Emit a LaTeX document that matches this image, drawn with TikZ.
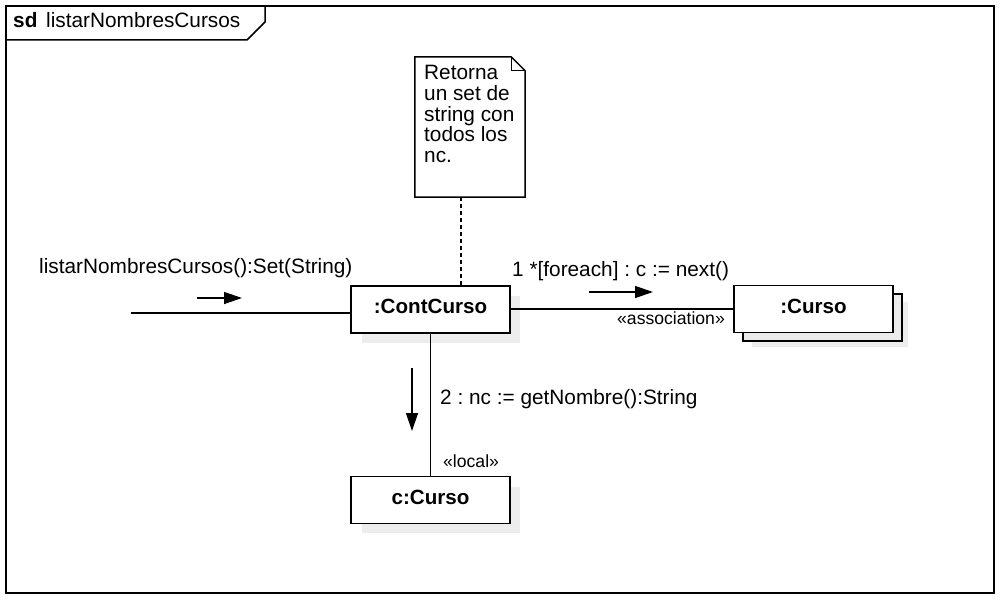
\documentclass[tikz,border=0pt]{standalone}
\usepackage{fontspec}
\setmainfont{Liberation Sans}
\usetikzlibrary{arrows.meta,calc}
\begin{document}
\frenchspacing
\begin{tikzpicture}[x=1pt,y=-1pt,
  lbl/.style={font=\fontsize{20.8}{20.8}\selectfont, inner sep=0pt},
  stereo/.style={font=\fontsize{17.6}{18}\selectfont, inner sep=0pt},
  obj/.style={draw, fill=white, line width=1.8pt, minimum width=159pt, minimum height=47pt,
    text height=15pt, text depth=7pt,
    font=\fontsize{20.6}{21}\selectfont\bfseries, inner sep=0pt},
  shade/.style={fill=black!7, draw=none},
  msg/.style={-{Triangle[length=18pt,width=12pt]}, line width=1.3pt},
  conn/.style={line width=1.3pt}]
\useasboundingbox (0,0) rectangle (1002,602);
\fill[white] (0,0) rectangle (1002,602);
% frame
\draw[line width=1.5pt] (6,6) rectangle (994,593);
\draw[line width=1.5pt] (6,40) -- (247,40) -- (265,22) -- (265,6);
\node[lbl, anchor=base west] (sd) at (13,28) {\bfseries sd};
\node[lbl, anchor=base west] (title) at (46,28) {listarNombresCursos};
% note
\node[minimum width=110pt, minimum height=140pt, inner sep=0pt] (note) at (470,127) {};
\draw[line width=1.5pt, fill=white] (note.north west) -- ($(note.north east)+(-14,0)$) -- ($(note.north east)+(0,14)$) -- (note.south east) -- (note.south west) -- cycle;
\draw[line width=1.2pt] ($(note.north east)+(-14,0)$) -- ($(note.north east)+(-14,14)$) -- ($(note.north east)+(0,14)$);
\node[lbl, anchor=north west, align=left] (notetext) at (424,65) {Retorna\\un set de\\string con\\todos los\\nc.};
% shadows
\fill[shade] (362,296) rectangle (520,343);
\fill[shade] (362,487) rectangle (520,533);
\fill[shade] (752,302) rectangle (908,347);
% objects
\node[obj] (cont) at (430.5,309.5) {:ContCurso};
\node[obj, fill=black!8] (cursoback) at (822.5,317.5) {};
\node[obj] (curso) at (813.5,309) {:Curso};
\node[obj] (ccurso) at (430.5,500) {c:Curso};
% connectors
\coordinate (in) at (131,313);
\draw[conn] (in) -- (in -| cont.west);
\coordinate (nt) at (461,197);
\draw[line width=1.2pt, dash pattern=on 4pt off 3pt] (nt) -- (nt |- cont.north);
\draw[conn] (cont.east |- curso.west) -- (curso.west);
\draw[conn] (cont.south) -- (ccurso.north);
% message arrows
\coordinate (a1s) at (197,298); \coordinate (a1e) at (242,298);
\draw[msg] (a1s) -- (a1e);
\coordinate (a2s) at (589,292); \coordinate (a2e) at (653,292);
\draw[msg] (a2s) -- (a2e);
\coordinate (a3s) at (412,368); \coordinate (a3e) at (412,431);
\draw[msg] (a3s) -- (a3e);
% labels
\node[lbl, anchor=base west] (m0) at (39,273) {listarNombresCursos():Set(String)};
\node[lbl, anchor=base west] (m1) at (512,276) {1 *[foreach] : c := next()};
\node[stereo, anchor=base west] (s1) at (617,324) {«association»};
\node[lbl, anchor=base west] (m2) at (440,404) {2 : nc := getNombre():String};
\node[stereo, anchor=base west] (s2) at (443,467) {«local»};
\end{tikzpicture}
\end{document}
